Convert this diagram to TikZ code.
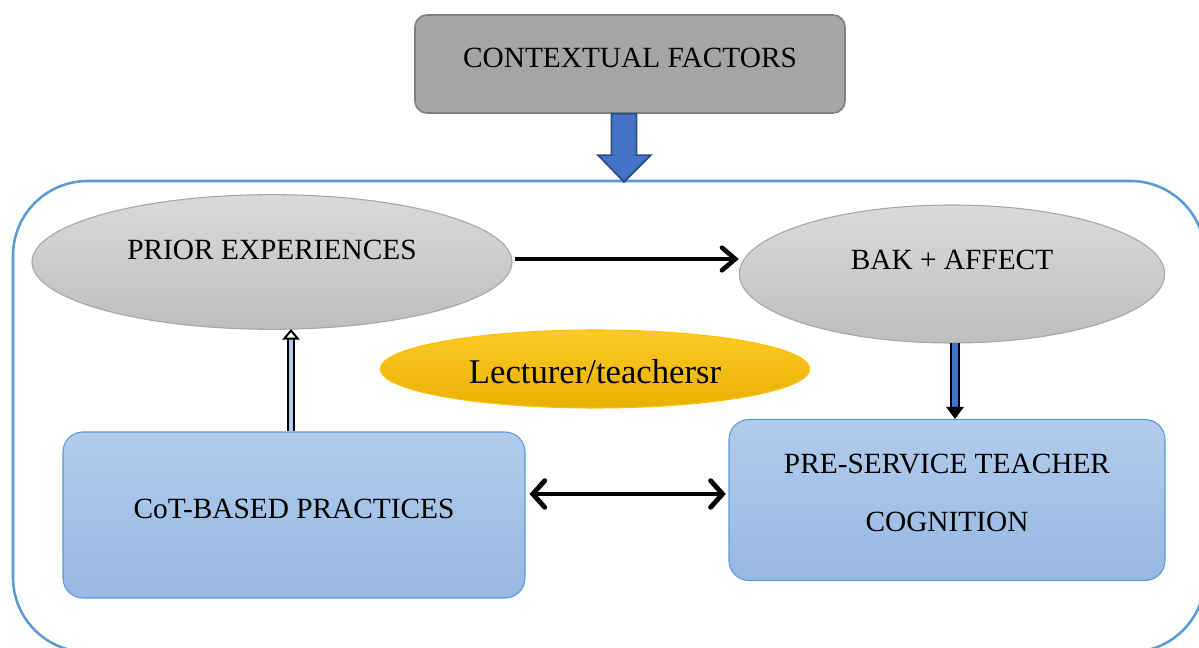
\documentclass[tikz,border=0pt]{standalone}
\usepackage{fontspec}
\setmainfont{Liberation Serif}
\usetikzlibrary{arrows.meta,shapes.geometric}
\definecolor{ctxfill}{HTML}{A5A5A5}
\definecolor{ctxdraw}{HTML}{7F7F7F}
\definecolor{graytop}{HTML}{DADADA}
\definecolor{graybot}{HTML}{BEBEBE}
\definecolor{graydraw}{HTML}{A5A5A5}
\definecolor{goldtop}{HTML}{FFCA28}
\definecolor{goldbot}{HTML}{E8B000}
\definecolor{golddraw}{HTML}{FFC000}
\definecolor{bluetop}{HTML}{B2CBEB}
\definecolor{bluebot}{HTML}{97B8E3}
\definecolor{bluedraw}{HTML}{5B9BD5}
\definecolor{arrowblue}{HTML}{4472C4}
\definecolor{arrowdark}{HTML}{2B4C86}
\begin{document}
\begin{tikzpicture}[x=0.75pt,y=-0.75pt,
  txt/.style={font=\fontsize{22}{43}\selectfont, text=black, align=center},
  grayell/.style={ellipse, draw=graydraw, line width=0.8pt, top color=graytop, bottom color=graybot, inner sep=0pt},
  goldell/.style={ellipse, draw=golddraw, line width=0.8pt, top color=goldtop, bottom color=goldbot, inner sep=0pt},
  bluebox/.style={rectangle, rounded corners=15pt, draw=bluedraw, line width=0.8pt, top color=bluetop, bottom color=bluebot, inner sep=0pt},
  ctxbox/.style={rectangle, rounded corners=9pt, draw=ctxdraw, line width=1.2pt, fill=ctxfill, inner sep=0pt},
  thickarrow/.style={line width=3.4pt, -{Straight Barb[length=10pt,width=17pt,line cap=round]}},
  bothway/.style={line width=3.6pt, line cap=round, {Straight Barb[length=9pt,width=20pt,line cap=round]}-{Straight Barb[length=9pt,width=20pt,line cap=round]}}
]
\useasboundingbox (0,0) rectangle (1199,648);
\fill[white] (0,0) rectangle (1199,648);

% outer frame
\draw[draw=bluedraw, line width=1.9pt, rounded corners=56pt] (13,181) rectangle (1205,652);

% nodes
\node[ctxbox, minimum width=322.5pt, minimum height=73.5pt] (ctx) at (630,64) {};
\node[txt] (ctxt) at (630,58) {CONTEXTUAL FACTORS};

\node[grayell, minimum width=360pt, minimum height=101pt] (prior) at (272,262) {};
\node[txt] (priort) at (272,250) {PRIOR EXPERIENCES};

\node[grayell, minimum width=319pt, minimum height=103.5pt] (bak) at (952,274) {};
\node[txt] (bakt) at (952,260) {BAK + AFFECT};

\node[goldell, minimum width=322pt, minimum height=58.5pt] (lect) at (595,369) {};
\node[txt, font=\fontsize{26}{30}\selectfont] (lectt) at (595,372) {Lecturer/teachersr};

\node[bluebox, minimum width=346.5pt, minimum height=124.5pt] (cot) at (294,515) {};
\node[txt] (cott) at (294,509) {CoT-BASED PRACTICES};

\node[bluebox, minimum width=327pt, minimum height=120.75pt] (pst) at (947,500) {};
\node[txt] (pstt) at (947,493) {PRE-SERVICE TEACHER\\COGNITION};

% block arrow from contextual factors into frame
\coordinate (ba) at (ctx.south -| 624,0);
\draw[draw=arrowdark, line width=1.3pt, fill=arrowblue, line join=miter]
  ([xshift=-9.4pt]ba) -- ([xshift=-9.4pt,yshift=-31pt]ba) -- ([xshift=-19.5pt,yshift=-31pt]ba)
  -- ([yshift=-51pt]ba) -- ([xshift=20pt,yshift=-31pt]ba) -- ([xshift=9.4pt,yshift=-31pt]ba)
  -- ([xshift=9.4pt]ba) -- cycle;

% prior -> bak
\draw[thickarrow] ([xshift=2pt]prior.east |- 0,259) coordinate (p1) -- (bak.west |- p1);

% cot <-> pst
\draw[bothway] ([xshift=3pt]cot.east |- 0,494) coordinate (c1) -- ([xshift=-2pt]pst.west |- c1);

% cot -> prior (hollow thin arrow)
\draw[double=bluetop, double distance=3pt, line width=1.5pt, -{Triangle[open, length=8pt, width=13pt, fill=white, line width=1.5pt]}]
  (cot.north -| 291,0) coordinate (u1) -- (291,329);

% bak -> pst (blue thin arrow)
\draw[double=arrowblue, double distance=4pt, line width=1.4pt, -{Triangle[length=9pt, width=13pt]}]
  (955,343) -- (pst.north -| 955,0);
\end{tikzpicture}
\end{document}
